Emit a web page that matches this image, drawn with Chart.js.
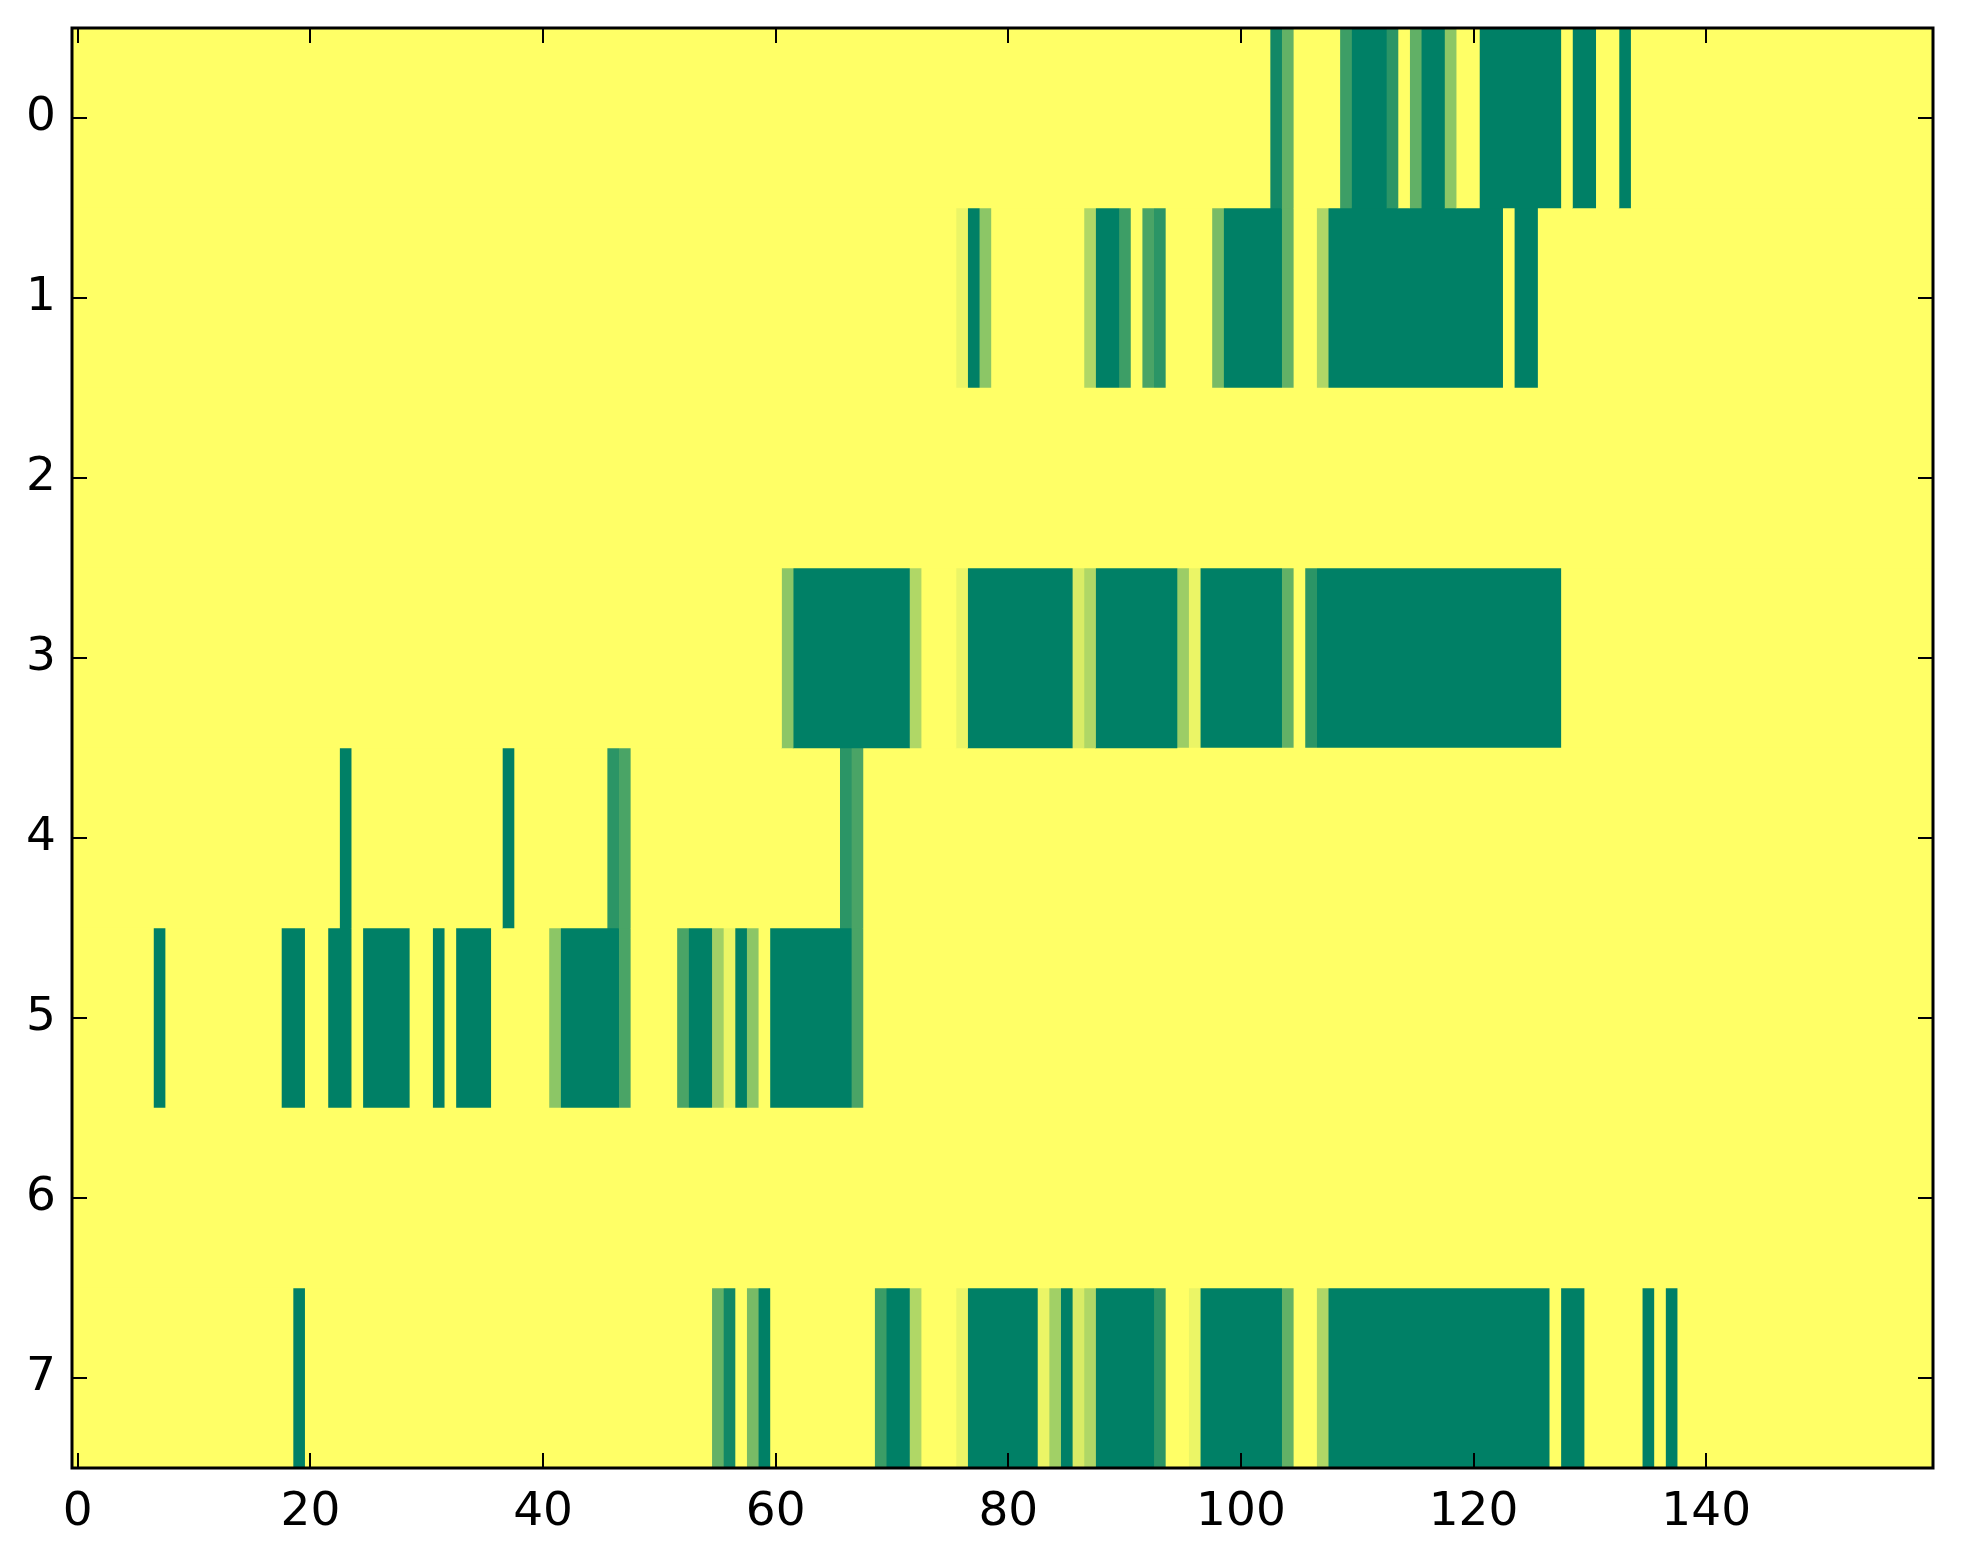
<!DOCTYPE html>
<html>
<head>
<meta charset="utf-8">
<script src="https://cdn.jsdelivr.net/npm/chart.js@4/dist/chart.umd.min.js"></script>
<style>
  html, body { margin: 0; padding: 0; background: #ffffff; }
  #wrap { width: 1963px; height: 1564px; }
</style>
</head>
<body>
<div id="wrap"><canvas id="c" width="1963" height="1564"></canvas></div>
<script>
// ---- data ----
const columnCount = 160;
const rowLabels = ['0', '1', '2', '3', '4', '5', '6', '7'];
const xTickValues = [0, 20, 40, 60, 80, 100, 120, 140];

// non-zero runs per row: [firstColumn, lastColumn, value]
const row0 = [[103,103,0.93],[104,104,0.61],[109,109,0.76],[110,112,1],[113,113,0.83],[115,115,0.62],[116,117,1],[118,118,0.45],[121,127,1],[129,130,1],[133,133,1]];
const row1 = [[76,76,0.08],[77,77,1],[78,78,0.45],[87,87,0.31],[88,89,1],[90,90,0.76],[92,92,0.71],[93,93,0.83],[98,98,0.53],[99,103,1],[104,104,0.61],[107,107,0.31],[108,122,1],[124,125,1]];
const row2 = [];
const row3 = [[61,61,0.45],[62,71,1],[72,72,0.31],[76,76,0.08],[77,85,1],[86,86,0.15],[87,87,0.31],[88,94,1],[95,95,0.39],[96,96,0.08],[97,103,1],[104,104,0.61],[106,106,0.83],[107,127,1]];
const row4 = [[23,23,1],[37,37,1],[46,46,0.83],[47,47,0.71],[66,66,0.83],[67,67,0.71]];
const row5 = [[7,7,1],[18,19,1],[22,23,1],[25,28,1],[31,31,1],[33,35,1],[41,41,0.45],[42,46,1],[47,47,0.71],[52,52,0.71],[53,54,1],[55,55,0.37],[56,56,0.08],[57,57,1],[58,58,0.45],[60,66,1],[67,67,0.71]];
const row6 = [];
const row7 = [[19,19,1],[55,55,0.61],[56,56,0.93],[58,58,0.53],[59,59,1],[69,69,0.77],[70,71,1],[72,72,0.31],[76,76,0.08],[77,82,1],[83,83,0.08],[84,84,0.37],[85,85,1],[86,86,0.15],[87,87,0.31],[88,92,1],[93,93,0.83],[96,96,0.08],[97,103,1],[104,104,0.61],[107,107,0.31],[108,126,1],[128,129,1],[135,135,1],[137,137,1]];
const rowRuns = [row0, row1, row2, row3, row4, row5, row6, row7];

// ---- colormap (matplotlib summer_r) ----
function summerR(v) {
  const t = 1 - v;
  const r = Math.round(255 * t);
  const g = Math.round(255 * (0.5 + t / 2));
  const b = Math.round(255 * 0.4);
  return `rgb(${r},${g},${b})`;
}

// expand runs into a full matrix
const matrix = rowRuns.map(runs => {
  const row = new Array(columnCount).fill(0);
  runs.forEach(([a, b, v]) => { for (let c = a; c <= b; c++) row[c] = v; });
  return row;
});

// merge equal neighbouring cells into bars (including zero cells)
const rowBars = matrix.map(row => {
  const bars = [];
  let start = 0;
  for (let c = 1; c <= columnCount; c++) {
    if (c === columnCount || row[c] !== row[start]) {
      bars.push({ from: start - 0.5, to: c - 0.5, v: row[start] });
      start = c;
    }
  }
  return bars;
});

const maxBars = Math.max(...rowBars.map(b => b.length));
const datasets = [];
for (let k = 0; k < maxBars; k++) {
  const data = [], colors = [];
  rowBars.forEach(bars => {
    const bar = bars[k];
    if (bar) { data.push([bar.from, bar.to]); colors.push(summerR(bar.v)); }
    else { data.push(null); colors.push('rgba(0,0,0,0)'); }
  });
  datasets.push({
    data, backgroundColor: colors, borderWidth: 0,
    grouped: false, barPercentage: 1, categoryPercentage: 1
  });
}

const FONT = { family: "'DejaVu Sans', sans-serif", size: 47 };

const framePlugin = {
  id: 'frame',
  beforeDatasetsDraw(chart) {
    const { ctx, chartArea: a } = chart;
    ctx.save();
    ctx.fillStyle = summerR(0);
    ctx.fillRect(a.left, a.top, a.right - a.left, a.bottom - a.top);
    ctx.restore();
  },
  afterDraw(chart) {
    const { ctx, chartArea: a } = chart;
    const xs = chart.scales.x, ys = chart.scales.y;
    const len = 15;
    ctx.save();
    ctx.strokeStyle = '#000';
    ctx.lineWidth = 2;
    ctx.beginPath();
    xs.ticks.forEach(t => {
      const px = Math.round(xs.getPixelForValue(t.value));
      ctx.moveTo(px, a.bottom); ctx.lineTo(px, a.bottom - len);
      ctx.moveTo(px, a.top); ctx.lineTo(px, a.top + len);
    });
    ys.ticks.forEach((t, i) => {
      const py = Math.round(ys.getPixelForTick(i));
      ctx.moveTo(a.left, py); ctx.lineTo(a.left + len, py);
      ctx.moveTo(a.right, py); ctx.lineTo(a.right - len, py);
    });
    ctx.stroke();
    ctx.lineWidth = 3;
    ctx.strokeRect(a.left, a.top, a.right - a.left, a.bottom - a.top);
    ctx.restore();
  }
};

new Chart(document.getElementById('c'), {
  type: 'bar',
  data: { labels: rowLabels, datasets },
  options: {
    indexAxis: 'y',
    responsive: false,
    animation: false,
    devicePixelRatio: 1,
    layout: { padding: { top: 28, right: 30, left: 0, bottom: 0 } },
    plugins: { legend: { display: false }, tooltip: { enabled: false } },
    scales: {
      x: {
        type: 'linear', position: 'bottom',
        min: -0.5, max: columnCount - 0.5,
        grid: { display: false }, border: { display: false },
        ticks: { font: FONT, color: '#000', padding: 9, maxRotation: 0 },
        afterBuildTicks: s => { s.ticks = xTickValues.map(v => ({ value: v })); },
        afterFit: s => { s.height = 96; s.paddingLeft = 0; s.paddingRight = 0; }
      },
      y: {
        type: 'category', labels: rowLabels, offset: true,
        grid: { display: false }, border: { display: false },
        ticks: { font: FONT, color: '#000', padding: 8 },
        afterFit: s => { s.width = 72; s.paddingTop = 0; s.paddingBottom = 0; }
      }
    }
  },
  plugins: [framePlugin]
});
</script>
</body>
</html>
